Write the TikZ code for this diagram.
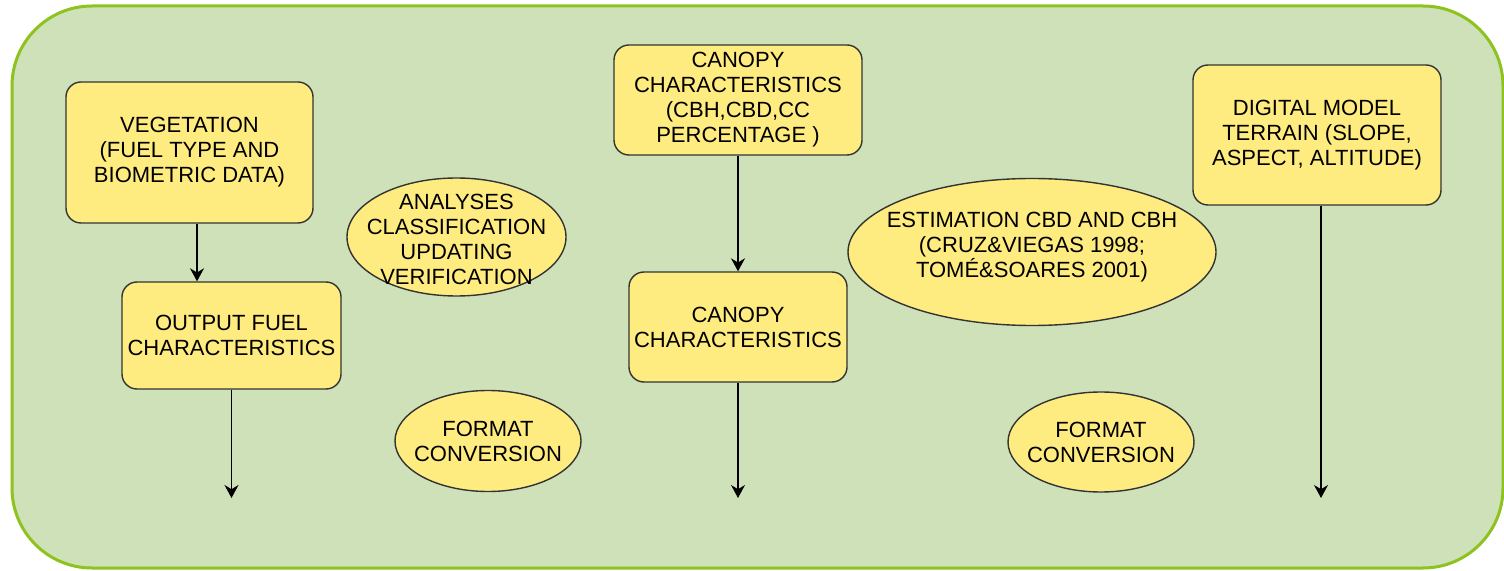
\documentclass[tikz,border=0pt]{standalone}
\usepackage{fontspec}
\setmainfont{Liberation Sans}
\usetikzlibrary{arrows.meta,shapes.geometric}

\definecolor{panelgreen}{HTML}{CFE1B8}
\definecolor{paneledge}{HTML}{8DC21F}
\definecolor{boxyellow}{HTML}{FFEC80}

\tikzset{
    databox/.style={draw=black!80, fill=boxyellow, rounded corners=7.5pt, line width=0.7pt,
        align=center, inner sep=0pt, font=\fontsize{11}{12.5}\selectfont},
    process/.style={ellipse, draw=black!80, fill=boxyellow, line width=0.7pt, inner sep=0pt},
    proctext/.style={align=center, inner sep=0pt, font=\fontsize{11}{12.5}\selectfont},
    flow/.style={-{Stealth[length=6.5pt,width=7pt]}, line width=0.7pt}
}

\begin{document}
\begin{tikzpicture}[x=0.5pt, y=-0.5pt]
        \useasboundingbox (0,0) rectangle (1504,571);
        \draw[paneledge, fill=panelgreen, line width=1.5pt, rounded corners=40pt] (12,6) rectangle (1503,568);

        \node[databox, minimum width=123.5pt, minimum height=70.5pt] (veg) at (189.5,152.5)
                {VEGETATION\\(FUEL TYPE AND\\BIOMETRIC DATA)};
        \node[databox, minimum width=109.5pt, minimum height=53.5pt] (fuel) at (231.5,335.5)
                {OUTPUT FUEL\\CHARACTERISTICS};
        \node[databox, minimum width=124pt, minimum height=55pt] (canopy) at (738,100)
                {CANOPY\\CHARACTERISTICS\\(CBH,CBD,CC\\PERCENTAGE )};
        \node[databox, minimum width=109pt, minimum height=55pt] (canopyout) at (738,327)
                {CANOPY\\CHARACTERISTICS};
        \node[databox, minimum width=124pt, minimum height=70pt] (terrain) at (1317,135)
                {DIGITAL MODEL\\TERRAIN (SLOPE,\\ASPECT, ALTITUDE)};

        \node[process, minimum width=109.5pt, minimum height=59pt,
                label={[proctext, yshift=-1pt]center:ANALYSES\\CLASSIFICATION\\UPDATING\\VERIFICATION}]
                (analyses) at (456.5,237) {};
        \node[process, minimum width=93pt, minimum height=50.5pt,
                label={[proctext]center:FORMAT\\CONVERSION}] (formatleft) at (488,441) {};
        \node[process, minimum width=184pt, minimum height=73.5pt,
                label={[proctext, yshift=2.5pt]center:ESTIMATION CBD AND CBH\\(CRUZ\&VIEGAS 1998;\\TOMÉ\&SOARES 2001)}]
                (estimation) at (1032,252) {};
        \node[process, minimum width=93pt, minimum height=50pt,
                label={[proctext]center:FORMAT\\CONVERSION}] (formatright) at (1101,442) {};

        \coordinate (vegx) at (197,0);
        \coordinate (fuelend) at (231.5,498);
        \coordinate (canopyend) at (738,498);
        \coordinate (terrainend) at (1321,498);

        \draw[flow] (vegx |- veg.south) -- (vegx |- fuel.north);
        \draw[flow] (fuel.south) -- (fuelend);
        \draw[flow] (canopy.south) -- (canopyout.north);
        \draw[flow] (canopyout.south) -- (canopyend);
        \draw[flow] (terrainend |- terrain.south) -- (terrainend);
\end{tikzpicture}
\end{document}
